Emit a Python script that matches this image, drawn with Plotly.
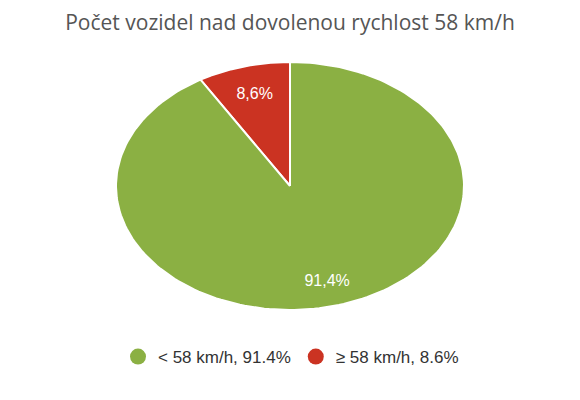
import numpy as np
import plotly.graph_objects as go

TITLE = 'Počet vozidel nad dovolenou rychlost 58 km/h'
categories = ['< 58 km/h', '≥ 58 km/h']
shares = [91.4, 8.6]
slice_labels = ['91,4%', '8,6%']
colors = ['#8BB043', '#CB3322']

fig = go.Figure()

# pie drawn as wedges in data space -> the axes stretch it into an ellipse
# red slice sits counter-clockwise from 12 o'clock, green goes clockwise
total = sum(shares)
start = 0.0
wedges = []
for cat, val, lab, col in zip(categories[::-1], shares[::-1], slice_labels[::-1], colors[::-1]):
    a0 = start
    a1 = start - val / total * 2 * np.pi
    t = np.linspace(a0, a1, 200)
    xs = np.concatenate([[0], np.sin(t), [0]])
    ys = np.concatenate([[0], np.cos(t), [0]])
    fig.add_trace(go.Scatter(x=xs, y=ys, mode='lines', fill='toself',
                             fillcolor=col, line=dict(color='white', width=2),
                             hoverinfo='skip', showlegend=False))
    mid = (a0 + a1) / 2
    r = 0.76 if val < 50 else 0.8
    wedges.append((lab, r * np.sin(mid), r * np.cos(mid)))
    start = a1

for lab, x, y in wedges:
    fig.add_trace(go.Scatter(x=[x], y=[y], mode='text', text=[lab],
                             textfont=dict(family='Liberation Sans, Arial', size=16, color='white'),
                             hoverinfo='skip', showlegend=False))

# legend entries
for cat, val, col in zip(categories, shares, colors):
    fig.add_trace(go.Scatter(x=[None], y=[None], mode='markers',
                             marker=dict(symbol='circle', size=17, color=col),
                             name=f'{cat}, {val}%'))

# page body has an 8px margin, so domains are shifted up/left by that
fig.update_xaxes(range=[-1, 1], domain=[108 / 580, 456 / 580], visible=False, fixedrange=True)
fig.update_yaxes(range=[-1, 1], domain=[1 - 302 / 400, 1 - 54 / 400], visible=False, fixedrange=True)

fig.update_layout(
    width=580, height=400,
    margin=dict(l=0, r=0, t=0, b=0),
    paper_bgcolor='white', plot_bgcolor='white',
    title=dict(text=TITLE, x=282 / 580, xanchor='center', y=1 - 15 / 400, yanchor='middle',
               font=dict(family='Open Sans', size=21, color='#555555')),
    legend=dict(orientation='h', x=283 / 580, xanchor='center', y=1 - 349 / 400, yanchor='middle',
                font=dict(family='Liberation Sans, Arial', size=17, color='#333333'),
                itemsizing='trace', itemwidth=30),
    showlegend=True,
)

fig.write_html("out.html")
